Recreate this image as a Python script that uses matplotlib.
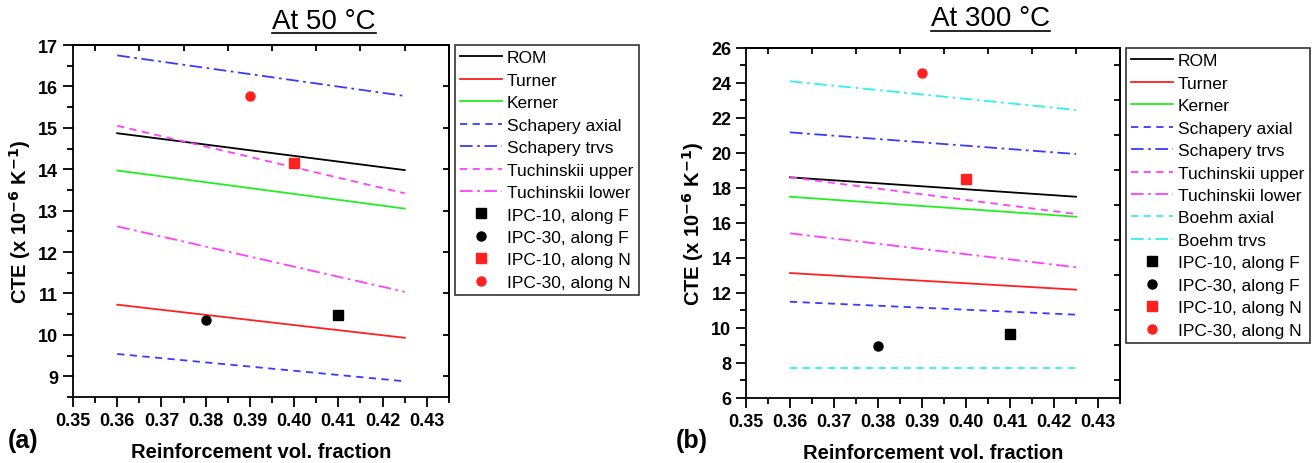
import numpy as np
import matplotlib
matplotlib.use("Agg")
import matplotlib.pyplot as plt
from matplotlib.lines import Line2D
from matplotlib.ticker import MultipleLocator

plt.rcParams['font.family'] = ['Liberation Sans', 'DejaVu Sans']

# model lines (value at vf = 0.36 and 0.425)
vf = [0.36, 0.425]

# At 50 C
rom_50 = [14.87, 13.98]
turner_50 = [10.73, 9.93]
kerner_50 = [13.97, 13.05]
schap_ax_50 = [9.54, 8.88]
schap_tr_50 = [16.75, 15.77]
tuch_up_50 = [15.05, 13.42]
tuch_lo_50 = [12.62, 11.04]

# At 300 C
rom_300 = [18.61, 17.50]
turner_300 = [13.14, 12.19]
kerner_300 = [17.50, 16.36]
schap_ax_300 = [11.50, 10.76]
schap_tr_300 = [21.18, 19.94]
tuch_up_300 = [18.61, 16.51]
tuch_lo_300 = [15.41, 13.47]
boehm_ax_300 = [7.70, 7.70]
boehm_tr_300 = [24.10, 22.46]

# measured points (vol. fraction, CTE)
ipc_vf = [0.41, 0.38, 0.40, 0.39]
ipc_labels = ["IPC-10, along F", "IPC-30, along F", "IPC-10, along N", "IPC-30, along N"]
ipc_50 = [10.49, 10.36, 14.15, 15.77]
ipc_300 = [9.66, 8.99, 18.51, 24.57]

xticks = [0.35, 0.36, 0.37, 0.38, 0.39, 0.40, 0.41, 0.42, 0.43]

red = '#ff2020'
green = '#22ee22'
blue = '#3a3aff'
mag = '#ff40ff'
cyan = '#30f0f0'
dashed = (0, (4, 3))
dashdot = (0, (7, 2.5, 1.5, 2.5))

fig = plt.figure(figsize=(13.12, 4.64), dpi=100)
ax1 = fig.add_axes([0.0556, 0.1422, 0.2866, 0.7586])
ax2 = fig.add_axes([0.5686, 0.1401, 0.2851, 0.7543])


def draw_lines(ax, curves):
    for y, lab, col, ls in curves:
        ax.plot(vf, y, color=col, linestyle=ls, lw=1.3, label=lab)


draw_lines(ax1, [
    (rom_50, "ROM", 'black', '-'),
    (turner_50, "Turner", red, '-'),
    (kerner_50, "Kerner", green, '-'),
    (schap_ax_50, "Schapery axial", blue, dashed),
    (schap_tr_50, "Schapery trvs", blue, dashdot),
    (tuch_up_50, "Tuchinskii upper", mag, dashed),
    (tuch_lo_50, "Tuchinskii lower", mag, dashdot),
])
draw_lines(ax2, [
    (rom_300, "ROM", 'black', '-'),
    (turner_300, "Turner", red, '-'),
    (kerner_300, "Kerner", green, '-'),
    (schap_ax_300, "Schapery axial", blue, dashed),
    (schap_tr_300, "Schapery trvs", blue, dashdot),
    (tuch_up_300, "Tuchinskii upper", mag, dashed),
    (tuch_lo_300, "Tuchinskii lower", mag, dashdot),
    (boehm_ax_300, "Boehm axial", cyan, dashed),
    (boehm_tr_300, "Boehm trvs", cyan, dashdot),
])

mk = ['s', 'o', 's', 'o']
mc = ['black', 'black', red, red]
for ax, vals in [(ax1, ipc_50), (ax2, ipc_300)]:
    for i in range(4):
        ax.plot(ipc_vf[i], vals[i], linestyle='none', marker=mk[i], ms=6.5,
                color=mc[i], label=ipc_labels[i])

for ax, ylim, step in [(ax1, (8.5, 17), 1), (ax2, (6, 26), 2)]:
    ax.set_xlim(0.35, 0.435)
    ax.set_ylim(*ylim)
    ax.set_xticks(xticks)
    ax.set_xticklabels(["%.2f" % t for t in xticks])
    ax.xaxis.set_minor_locator(MultipleLocator(0.005))
    ax.yaxis.set_major_locator(MultipleLocator(step))
    ax.yaxis.set_minor_locator(MultipleLocator(step / 2))
    ax.tick_params(which='major', direction='out', length=7, width=1.3, labelsize=13)
    ax.tick_params(which='minor', direction='out', length=4, width=1.3)
    for lab in ax.get_xticklabels() + ax.get_yticklabels():
        lab.set_fontweight('bold')
    for sp in ax.spines.values():
        sp.set_linewidth(1.3)
    # inward ticks on top and right, offset by half a step
    top = ax.secondary_xaxis('top')
    top.set_xticks(np.arange(0.355, 0.435, 0.01))
    top.tick_params(direction='in', length=4, width=1.3, labeltop=False)
    top.spines['top'].set_linewidth(1.3)
    rgt = ax.secondary_yaxis('right')
    rgt.set_yticks(np.arange(ylim[0] + step / 2, ylim[1], step))
    rgt.tick_params(direction='in', length=4, width=1.3, labelright=False)
    rgt.spines['right'].set_linewidth(1.3)

    ax.set_xlabel("Reinforcement vol. fraction", fontsize=14.5, fontweight='bold', labelpad=10)
    ax.set_ylabel(r"CTE (x 10$^{\mathbf{-6}}$ K$^{\mathbf{-1}}$)", fontsize=14.5,
                  fontweight='bold', labelpad=4)
    leg = ax.legend(loc='upper left', bbox_to_anchor=(1.016, 1.0), fontsize=12.5,
                    frameon=True, fancybox=False, edgecolor='black', handlelength=2.4,
                    handletextpad=0.3, labelspacing=0.42, borderpad=0.3, borderaxespad=0)
    leg.get_frame().set_linewidth(1.2)

fig.text(0.006, 0.035, "(a)", fontsize=18, fontweight='bold')
fig.text(0.515, 0.035, "(b)", fontsize=18, fontweight='bold')

titles = [fig.text(0.247, 0.953, "At 50 °C", fontsize=20, ha='center', va='center'),
          fig.text(0.755, 0.958, "At 300 °C", fontsize=20, ha='center', va='center')]

# underline the titles
fig.canvas.draw()
r = fig.canvas.get_renderer()
for t in titles:
    bb = t.get_window_extent(r).transformed(fig.transFigure.inverted())
    fig.add_artist(Line2D([bb.x0, bb.x1], [bb.y0 + 0.002, bb.y0 + 0.002],
                          transform=fig.transFigure, color='black', lw=1.2))

fig.savefig("out.png", dpi=100)
